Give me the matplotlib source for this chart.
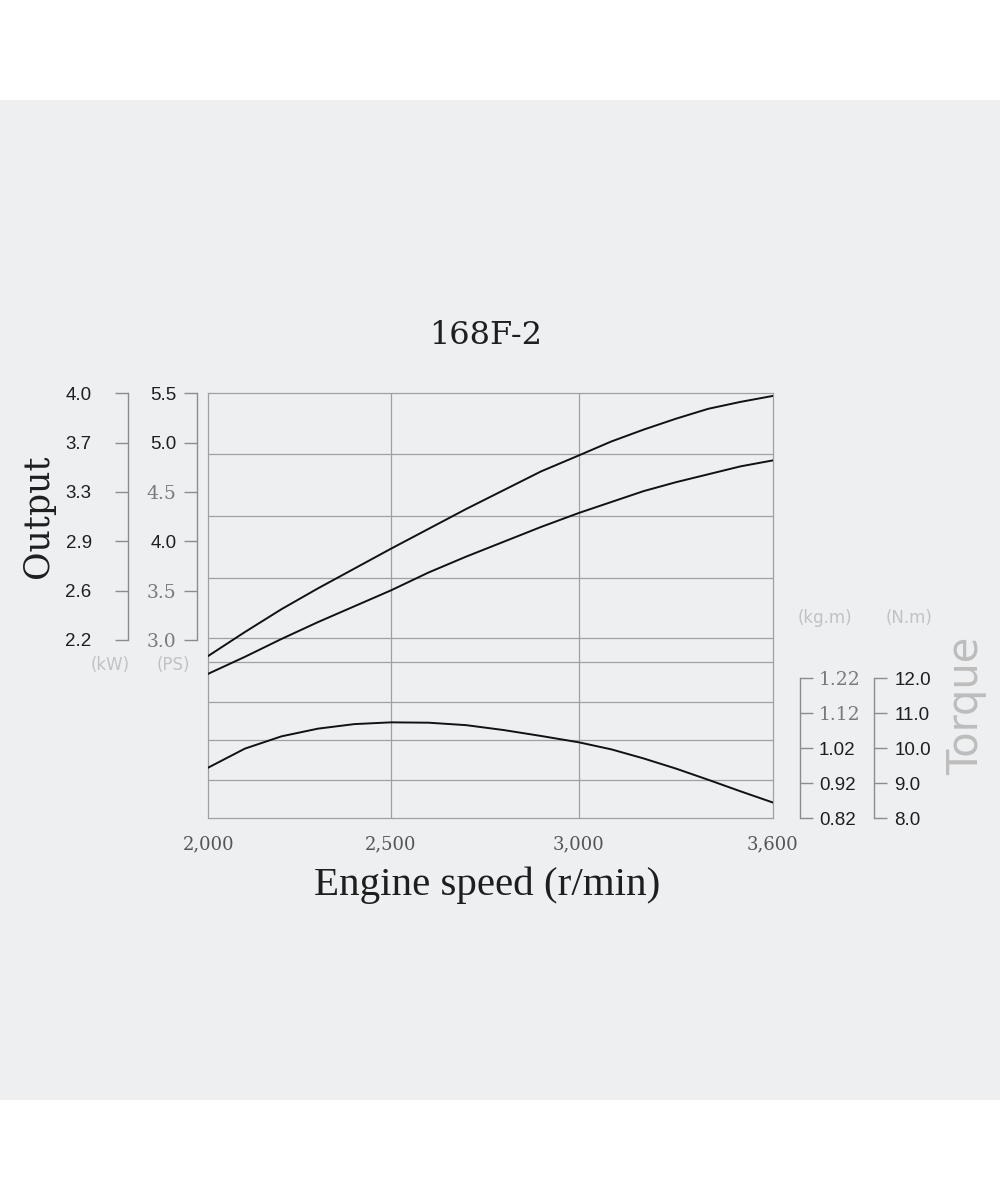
import matplotlib.pyplot as plt
import matplotlib.patches as patches
import numpy as np

# engine speed (r/min)
rpm = [2000, 2100, 2200, 2300, 2400, 2500, 2600, 2700, 2800,
       2900, 3000, 3100, 3200, 3300, 3400, 3500, 3600]
# output curves (PS)
max_output = [2.83, 3.07, 3.30, 3.51, 3.71, 3.91, 4.11, 4.31, 4.50,
              4.69, 4.85, 4.99, 5.11, 5.22, 5.32, 5.39, 5.45]
rated_output = [2.65, 2.82, 3.00, 3.17, 3.33, 3.49, 3.67, 3.83, 3.98,
                4.13, 4.27, 4.38, 4.49, 4.58, 4.66, 4.74, 4.80]
# torque (N.m)
torque = [9.47, 10.01, 10.36, 10.58, 10.71, 10.76, 10.75, 10.68, 10.54,
          10.37, 10.19, 9.99, 9.73, 9.44, 9.12, 8.79, 8.47]

speed_ticks = [2000, 2500, 3000, 3600]
speed_labels = ["2,000", "2,500", "3,000", "3,600"]
ps_ticks = [5.5, 5.0, 4.5, 4.0, 3.5, 3.0]
ps_labels = ["5.5", "5.0", "4.5", "4.0", "3.5", "3.0"]
kw_labels = ["4.0", "3.7", "3.3", "2.9", "2.6", "2.2"]
nm_ticks = [12.0, 11.0, 10.0, 9.0, 8.0]
nm_labels = ["12.0", "11.0", "10.0", "9.0", "8.0"]
kgm_labels = ["1.22", "1.12", "1.02", "0.92", "0.82"]
grid_ps = [4.86, 4.24, 3.61, 3.01, 2.77, 2.36, 1.98, 1.58]

# the printed speed axis is not evenly spaced
speed_pos = [0.0, 182.6, 370.4, 564.5]

BAND = "#eeeff1"
GRID = "#a0a0a0"
AXC = "#8c8c8c"
DARK = "#1e1e1e"
SOFT = "#7a7a7a"

fig = plt.figure(figsize=(10, 12), dpi=100)
fig.patches.append(patches.Rectangle((0, 100 / 1200), 1, 1000 / 1200,
                                     transform=fig.transFigure,
                                     facecolor=BAND, edgecolor="none", zorder=-5))

rect = [0.2084, 0.3181, 0.5645, 0.3542]
ax = fig.add_axes(rect)
ax.set_facecolor("none")

fwd = lambda x: np.interp(x, speed_ticks, speed_pos)
inv = lambda y: np.interp(y, speed_pos, speed_ticks)
ax.set_xscale("function", functions=(fwd, inv))
ax.set_xlim(2000, 3600)
ax.set_ylim(1.1925, 5.477)

for g in grid_ps:
    ax.axhline(g, color=GRID, lw=0.9, zorder=1)
for s in speed_ticks[1:-1]:
    ax.axvline(s, color=GRID, lw=0.9, zorder=1)
for sp in ax.spines.values():
    sp.set_color(GRID)
    sp.set_linewidth(0.9)

ax.plot(rpm, max_output, color="#111111", lw=1.4, zorder=3)
ax.plot(rpm, rated_output, color="#111111", lw=1.4, zorder=3)

ax.set_xticks(speed_ticks, speed_labels)
ax.tick_params(axis="x", length=0, pad=12, labelsize=13, labelcolor="#555555")
for t in ax.get_xticklabels():
    t.set_fontfamily("DejaVu Serif")
ax.set_yticks([])

# torque curve on its own scale
axt = fig.add_axes(rect, sharex=ax)
axt.set_facecolor("none")
axt.set_ylim(8.02, 20.16)
axt.plot(rpm, torque, color="#111111", lw=1.4, zorder=3)
axt.set_yticks([])
axt.tick_params(axis="x", bottom=False, labelbottom=False)
for sp in axt.spines.values():
    sp.set_visible(False)


def side_axis(side, outward, ylim, ticks, labels, pad, serif=None):
    a = fig.add_axes(rect, sharex=ax)
    a.set_facecolor("none")
    a.set_ylim(*ylim)
    for k, sp in a.spines.items():
        sp.set_visible(k == side)
    sp = a.spines[side]
    sp.set_position(("outward", outward))
    sp.set_bounds(min(ticks), max(ticks))
    sp.set_color(AXC)
    sp.set_linewidth(1.0)
    a.tick_params(axis="x", bottom=False, labelbottom=False)
    a.yaxis.set_ticks_position(side)
    a.set_yticks(ticks, labels)
    a.tick_params(axis="y", direction="out", length=9.4, width=1.0, color=AXC,
                  pad=pad, labelsize=13.5, labelcolor=DARK)
    for i, t in enumerate(a.get_yticklabels()):
        if serif and serif[i]:
            t.set_fontfamily("DejaVu Serif")
            t.set_color(SOFT)
        else:
            t.set_fontfamily("Liberation Sans")
    return a


side_axis("left", 8.0, (1.1925, 5.477), ps_ticks, ps_labels, 5.5,
          serif=[0, 0, 1, 0, 1, 1])
side_axis("left", 58.1, (1.1925, 5.477), ps_ticks, kw_labels, 16.5)
side_axis("right", 19.5, (8.02, 20.16), nm_ticks, kgm_labels, 4.3,
          serif=[1, 1, 0, 0, 0])
side_axis("right", 73.0, (8.02, 20.16), nm_ticks, nm_labels, 5.0)

H = 1200.0
fig.text(486 / 1000, 1 - 335 / H, "168F-2", family="DejaVu Serif", size=23,
         color=DARK, ha="center", va="center")
fig.text(38 / 1000, 1 - 516 / H, "Output", family="DejaVu Serif", size=25,
         color=DARK, ha="center", va="center", rotation=90)
fig.text(487 / 1000, 1 - 895 / H, "Engine speed (r/min)", family="Liberation Serif",
         size=29.5, color=DARK, ha="center", va="baseline")
fig.text(966 / 1000, 1 - 706 / H, "Torque", family="DejaVu Sans", size=30,
         color="#bdbdbd", ha="center", va="center", rotation=90)

unit_kw = dict(family="DejaVu Sans", size=12, color="#c2c2c2", ha="center", va="center")
fig.text(110 / 1000, 1 - 665 / H, "(kW)", **unit_kw)
fig.text(173 / 1000, 1 - 665 / H, "(PS)", **unit_kw)
fig.text(825 / 1000, 1 - 618 / H, "(kg.m)", **unit_kw)
fig.text(909 / 1000, 1 - 618 / H, "(N.m)", **unit_kw)

fig.savefig("out.png", dpi=100)
